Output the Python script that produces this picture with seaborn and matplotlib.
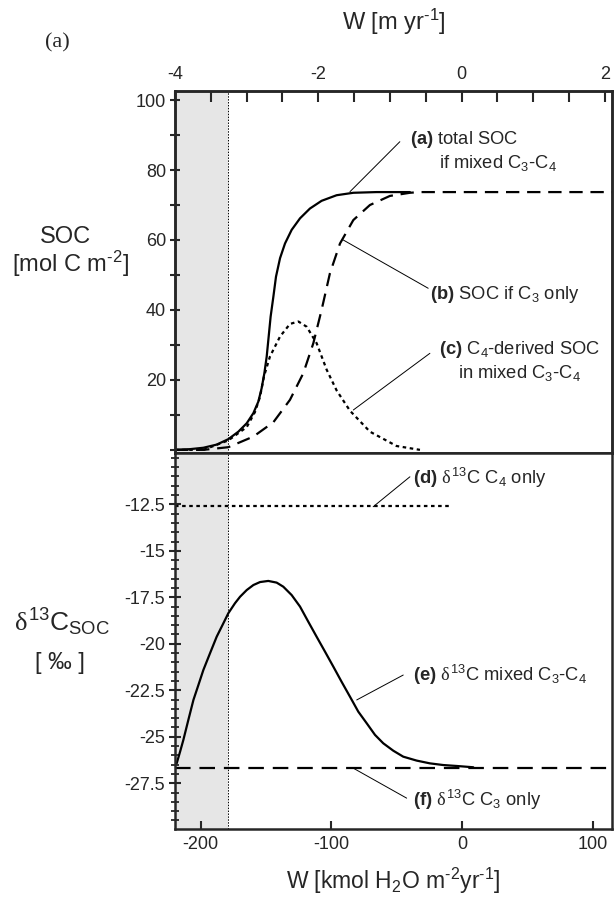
import matplotlib
matplotlib.use("Agg")
import matplotlib.pyplot as plt
import seaborn as sns
import numpy as np

# ---------------- data ----------------
# x in kmol H2O m-2 yr-1
W_total = [-219.7, -208.2, -198.0, -187.8, -178.9, -171.2, -164.8, -159.7, -155.9, -153.4,
           -151.3, -149.5, -148.0, -146.5, -144.4, -142.4, -139.3, -135.5, -130.4, -124.0,
           -116.4, -107.5, -96.0, -83.2, -65.4, -39.9]
SOC_total = [0.0, 0.2, 0.6, 1.5, 3.05, 5.2, 7.6, 10.5, 13.8, 17.6,
             21.9, 26.7, 32.4, 38.1, 43.8, 49.5, 54.8, 59.0, 62.9, 66.2,
             69.0, 71.2, 72.8, 73.5, 73.7, 73.7]

W_c3 = [-219.7, -198.0, -178.9, -159.7, -144.4, -131.7, -121.5, -113.8, -107.5, -101.1,
        -93.4, -83.2, -70.5, -55.2, -39.9, -32.2, 114.8]
SOC_c3 = [0.0, 0.0, 0.76, 3.8, 7.9, 14.3, 21.9, 30.5, 40.0, 50.5,
          59.0, 65.7, 70.0, 72.6, 73.5, 73.7, 73.7]

W_c4 = [-219.7, -198.0, -178.9, -164.8, -158.5, -154.6, -151.6, -147.0, -139.3, -131.7,
        -125.3, -118.9, -111.3, -103.6, -96.0, -85.8, -70.5, -50.1, -32.2]
SOC_c4 = [0.0, 0.0, 2.7, 6.5, 10.8, 15.2, 21.0, 26.7, 32.4, 36.0,
          36.7, 35.2, 30.5, 22.9, 17.0, 11.2, 5.2, 1.1, 0.0]

W_d13_mix = [-218.4, -215.8, -213.3, -209.5, -205.6, -201.8, -198.0, -192.9, -187.8, -182.7,
             -178.9, -173.8, -169.9, -164.8, -159.7, -154.6, -148.3, -141.9, -136.8, -130.4,
             -124.0, -117.7, -111.3, -104.9, -98.5, -92.2, -85.8, -79.4, -73.0, -66.6,
             -60.3, -52.6, -45.0, -34.8, -24.6, -14.4, -4.2, 8.6]
d13_mix = [-26.43, -25.80, -25.17, -24.10, -23.02, -22.22, -21.41, -20.51, -19.62, -18.90,
           -18.36, -17.82, -17.47, -17.11, -16.84, -16.68, -16.62, -16.71, -16.93, -17.38,
           -18.00, -18.81, -19.62, -20.42, -21.23, -22.04, -22.84, -23.65, -24.27, -24.90,
           -25.35, -25.75, -26.07, -26.28, -26.43, -26.52, -26.57, -26.64]

W_d13_c4 = [-219.7, -9.2]
d13_c4 = [-12.6, -12.6]
W_d13_c3 = [-219.7, 114.8]
d13_c3 = [-26.68, -26.68]

W_dry = -179.0          # limit of shaded zone
XLIM = (-219.7, 114.8)
XLIM_TOP = (-4.0, 2.1)

soc_major = [20, 40, 60, 80, 100]
soc_minor = [0, 10, 30, 50, 70, 90]
d13_major = [-12.5, -15, -17.5, -20, -22.5, -25, -27.5]
d13_labels = ["-12.5", "-15", "-17.5", "-20", "-22.5", "-25", "-27.5"]
w_ticks = [-200, -100, 0, 100]
w_top_major = [-4, -2, 0, 2]
w_top_minor = [-3.5, -3, -2.5, -1.5, -1, -0.5, 0.5, 1, 1.5]

# ---------------- style ----------------
sns.set_style("ticks")
plt.rcParams["font.family"] = ["Liberation Sans", "DejaVu Sans"]
plt.rcParams["mathtext.fontset"] = "custom"
plt.rcParams["mathtext.rm"] = "Liberation Sans"
plt.rcParams["mathtext.it"] = "Liberation Serif"
plt.rcParams["mathtext.bf"] = "Liberation Sans:bold"
plt.rcParams["mathtext.default"] = "regular"
plt.rcParams["axes.unicode_minus"] = False

fig = plt.figure(figsize=(6.14, 9.02), dpi=100)
L, Wd = 175 / 614, 437 / 614
ax1 = fig.add_axes([L, 1 - 453 / 902, Wd, 362 / 902])
ax2 = fig.add_axes([L, 1 - 829 / 902, Wd, 376 / 902])

LW = 1.6
dash = (0, (6, 3.5))
dot = (0, (1.6, 1.6))

for ax in (ax1, ax2):
    ax.axvspan(XLIM[0], W_dry, color="#e6e6e6", lw=0, zorder=0)
    ax.axvline(W_dry, color="k", lw=0.7, linestyle=(0, (1.5, 1.5)), zorder=1)
    ax.set_xlim(*XLIM)
    for s in ax.spines.values():
        s.set_linewidth(1.8)
        s.set_visible(True)

# top panel curves
sns.lineplot(x=W_c3, y=SOC_c3, ax=ax1, color="k", lw=LW, linestyle=dash, sort=False)
sns.lineplot(x=W_c4, y=SOC_c4, ax=ax1, color="k", lw=LW, linestyle=dot, sort=False)
sns.lineplot(x=W_total, y=SOC_total, ax=ax1, color="k", lw=LW, sort=False)
ax1.set_ylim(-0.9, 102.6)

# bottom panel curves
sns.lineplot(x=W_d13_c4, y=d13_c4, ax=ax2, color="k", lw=LW, linestyle=dot, sort=False)
sns.lineplot(x=W_d13_c3, y=d13_c3, ax=ax2, color="k", lw=LW, linestyle=(0, (7, 4)), sort=False)
sns.lineplot(x=W_d13_mix, y=d13_mix, ax=ax2, color="k", lw=LW, sort=False)
ax2.set_ylim(-29.96, -9.74)

# ---- ticks ----
ax1.set_yticks(soc_major)
ax1.set_yticks(soc_minor, minor=True)
ax1.tick_params(axis="y", which="both", direction="inout", length=7, width=1.5, labelsize=13, pad=3)
ax1.tick_params(axis="x", which="both", bottom=False, labelbottom=False)
ax1.set_xlabel("")
ax1.set_ylabel("")
ax1.spines["bottom"].set_linewidth(2.0)
ax2.spines["top"].set_visible(False)

ax2.set_yticks(d13_major)
ax2.set_yticklabels(d13_labels)
ax2.set_yticks(np.arange(-29.5, -9.9, 0.5), minor=True)
ax2.tick_params(axis="y", which="major", direction="inout", length=8, width=1.5, labelsize=13, pad=3)
ax2.tick_params(axis="y", which="minor", direction="inout", length=6, width=1.3)
ax2.set_xticks(w_ticks)
ax2.tick_params(axis="x", which="major", direction="in", length=6, width=1.5, labelsize=13, pad=5)
ax2.set_ylabel("")
ax2.set_xlabel(r"W [kmol H$_2$O m$^{\text{-}2}$yr$^{\text{-}1}$]", fontsize=16.5, labelpad=9)

axt = ax1.twiny()
axt.set_xlim(*XLIM_TOP)
axt.set_xticks(w_top_major)
axt.set_xticks(w_top_minor, minor=True)
axt.tick_params(axis="x", which="both", direction="in", length=8, width=1.5, labelsize=13, pad=6)
axt.set_xlabel(r"W [m yr$^{\text{-}1}$]", fontsize=17, labelpad=26)
for s in axt.spines.values():
    s.set_linewidth(1.8)

# ---- y labels ----
fig.text(65 / 614, 1 - 237 / 902, "SOC", fontsize=17, ha="center", va="center")
fig.text(70 / 614, 1 - 264 / 902, r"[mol C m$^{\text{-}2}$]", fontsize=17, ha="center", va="center")
fig.text(62 / 614, 1 - 622 / 902, r"$\mathit{\delta}^{13}$C$_{SOC}$", fontsize=19, ha="center", va="center")
fig.text(60 / 614, 1 - 663 / 902, "[ \u2030 ]", fontsize=17, ha="center", va="center")
fig.text(57 / 614, 1 - 43 / 902, "(a)", fontsize=16, ha="center", va="center", family="Liberation Serif")

# ---- annotations ----
FS = 13.2
lead = dict(arrowstyle="-", lw=0.7, color="k", shrinkA=0, shrinkB=0)

def leader(ax, p0, p1):
    ax.annotate("", xy=p0, xytext=p1, arrowprops=lead)

leader(ax1, (-85.8, 73.8), (-47.6, 88.1))
ax1.text(-39.9, 88.6, r"$\mathbf{(a)}$ total SOC", fontsize=FS, va="center", ha="left")
ax1.text(-17.7, 82.0, r"if mixed C$_3$-C$_4$", fontsize=FS, va="center", ha="left")

leader(ax1, (-90.9, 60.0), (-25.9, 46.2))
ax1.text(-24.6, 44.3, r"$\mathbf{(b)}$ SOC if C$_3$ only", fontsize=FS, va="center", ha="left")

leader(ax1, (-83.2, 11.4), (-24.6, 27.6))
ax1.text(-17.7, 28.6, r"$\mathbf{(c)}$ C$_4$-derived SOC", fontsize=FS, va="center", ha="left")
ax1.text(-2.9, 21.9, r"in mixed C$_3$-C$_4$", fontsize=FS, va="center", ha="left")

leader(ax2, (-68.0, -12.63), (-39.9, -11.02))
ax2.text(-37.8, -11.1, r"$\mathbf{(d)}$ $\mathit{\delta}^{13}$C C$_4$ only", fontsize=FS, va="center", ha="left")

leader(ax2, (-80.6, -23.02), (-45.0, -21.68))
ax2.text(-37.8, -21.68, r"$\mathbf{(e)}$ $\mathit{\delta}^{13}$C mixed C$_3$-C$_4$", fontsize=FS, va="center", ha="left")

leader(ax2, (-83.2, -26.69), (-42.4, -28.3))
ax2.text(-37.8, -28.39, r"$\mathbf{(f)}$ $\mathit{\delta}^{13}$C C$_3$ only", fontsize=FS, va="center", ha="left")

fig.savefig("out.png", dpi=100)
